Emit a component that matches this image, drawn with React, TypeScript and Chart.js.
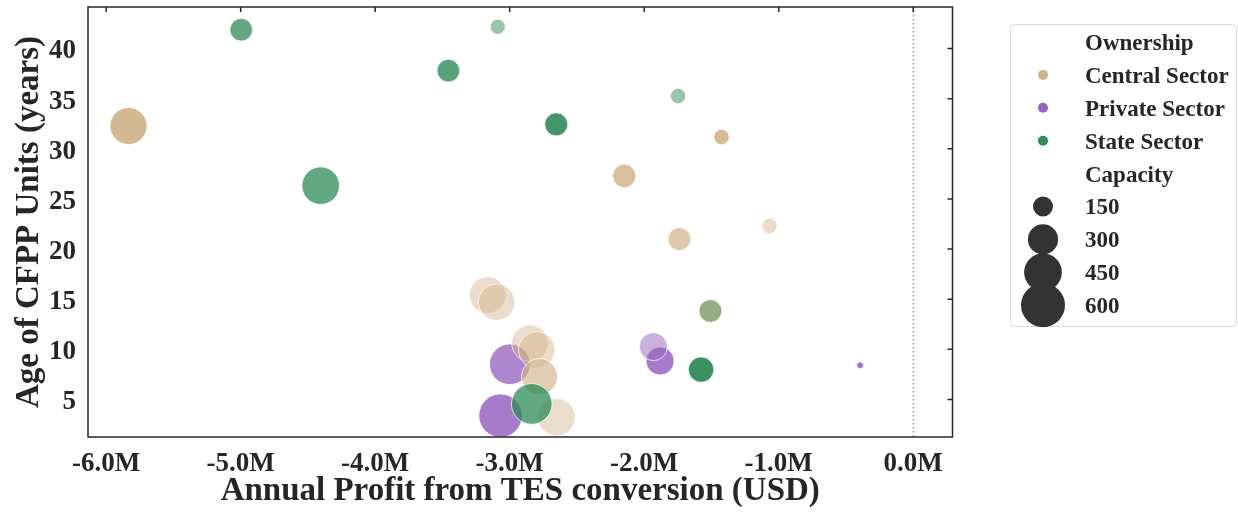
import React, { useEffect, useRef } from "react";
import { Chart, registerables } from "chart.js";

Chart.register(...registerables);

// Annual profit from TES conversion, in million USD (drawn in this order)
const profitM = [
  -1.882, -1.932, -0.395, -2.999, -3.068,
  -5.834, -2.148, -1.425, -1.738, -1.069, -1.508, -3.164, -3.097, -2.849, -2.799, -2.778, -2.652,
  -4.996, -3.089, -3.456, -4.405, -2.654, -1.748, -1.508, -1.577, -2.836,
];
// Age of each coal-fired unit, in years
const ageYears = [
  8.84, 10.27, 8.41, 8.51, 3.39,
  32.27, 27.29, 31.18, 21.0, 22.3, 13.83, 15.42, 14.7, 10.61, 9.94, 7.28, 3.23,
  41.87, 42.17, 37.79, 26.32, 32.44, 35.26, 13.83, 7.98, 4.56,
];
// Unit capacity, MW
const capacityMW = [
  263, 263, 46, 516, 585,
  434, 193, 102, 188, 102, 188, 425, 425, 422, 422, 413, 443,
  183, 99, 183, 447, 188, 102, 188, 222, 516,
];
const ownership = [
  "Private Sector", "Private Sector", "Private Sector", "Private Sector", "Private Sector",
  "Central Sector", "Central Sector", "Central Sector", "Central Sector", "Central Sector", "Central Sector",
  "Central Sector", "Central Sector", "Central Sector", "Central Sector", "Central Sector", "Central Sector",
  "State Sector", "State Sector", "State Sector", "State Sector", "State Sector", "State Sector",
  "State Sector", "State Sector", "State Sector",
];
// Marker opacity per unit
const opacity = [
  0.85, 0.5, 0.9, 0.78, 0.85,
  0.95, 0.85, 0.9, 0.7, 0.45, 0.8, 0.45, 0.45, 0.45, 0.45, 0.65, 0.45,
  0.75, 0.5, 0.8, 0.75, 0.9, 0.5, 0.4, 0.95, 0.75,
];

const ownershipNames = ["Central Sector", "Private Sector", "State Sector"];
const ownershipRGB: Record<string, number[]> = {
  "Central Sector": [210, 180, 140],
  "Private Sector": [150, 100, 192],
  "State Sector": [46, 139, 87],
};
const xTickValues = [-6, -5, -4, -3, -2, -1, 0];
const yTickValues = [5, 10, 15, 20, 25, 30, 35, 40];
const capacityLegend = [150, 300, 450, 600];

const FONT = "'Liberation Serif', 'Times New Roman', serif";
const INK = "#262626";

// marker area grows linearly with capacity
const radiusFor = (cap: number) => Math.sqrt(Math.max(0.853 * cap - 28, 4));

const rgba = (rgb: number[], a: number) => `rgba(${rgb[0]},${rgb[1]},${rgb[2]},${a})`;

const decorPlugin = {
  id: "decor",
  beforeDatasetsDraw(chart: any) {
    const { ctx, chartArea, scales } = chart;
    const x0 = Math.round(scales.x.getPixelForValue(0)) + 0.5;
    ctx.save();
    ctx.strokeStyle = "#9a9a9a";
    ctx.lineWidth = 1.6;
    ctx.setLineDash([1.6, 2.4]);
    ctx.beginPath();
    ctx.moveTo(x0, chartArea.top);
    ctx.lineTo(x0, chartArea.bottom);
    ctx.stroke();
    ctx.restore();
  },
  afterDraw(chart: any) {
    const { ctx, chartArea, scales } = chart;
    const { left, right, top, bottom } = chartArea;
    ctx.save();
    // frame
    ctx.strokeStyle = INK;
    ctx.lineWidth = 1.5;
    ctx.strokeRect(left, top, right - left, bottom - top);
    // inward ticks on top and right
    ctx.beginPath();
    for (const v of xTickValues) {
      const px = scales.x.getPixelForValue(v);
      ctx.moveTo(px, top);
      ctx.lineTo(px, top + 5);
    }
    for (const v of yTickValues) {
      const py = scales.y.getPixelForValue(v);
      ctx.moveTo(right, py);
      ctx.lineTo(right - 5, py);
    }
    ctx.stroke();

    // axis titles
    ctx.fillStyle = INK;
    ctx.font = `bold 33px ${FONT}`;
    ctx.textAlign = "center";
    ctx.textBaseline = "middle";
    ctx.fillText("Annual Profit from TES conversion (USD)", (left + right) / 2, 491);
    ctx.save();
    ctx.translate(29, (top + bottom) / 2);
    ctx.rotate(-Math.PI / 2);
    ctx.fillText("Age of CFPP Units (years)", 0, 0);
    ctx.restore();

    // legend
    const bx = 1010.5, by = 24.5, bw = 226, bh = 302;
    ctx.strokeStyle = "#d6d6d6";
    ctx.lineWidth = 1;
    ctx.beginPath();
    ctx.roundRect(bx, by, bw, bh, 4);
    ctx.fillStyle = "rgba(255,255,255,0.8)";
    ctx.fill();
    ctx.stroke();

    const textX = 1085;
    const markX = 1043;
    const rowY = (i: number) => 42 + i * 32.9;
    const textY = (i: number) => rowY(i) + 2;
    ctx.font = `bold 23px ${FONT}`;
    ctx.textAlign = "left";
    ctx.fillStyle = INK;
    ctx.fillText("Ownership", textX, textY(0));
    ownershipNames.forEach((name, i) => {
      ctx.fillStyle = rgba(ownershipRGB[name], 1);
      ctx.beginPath();
      ctx.arc(markX, rowY(i + 1), 5, 0, Math.PI * 2);
      ctx.fill();
      ctx.fillStyle = INK;
      ctx.fillText(name, textX, textY(i + 1));
    });
    ctx.fillText("Capacity", textX, textY(4));
    capacityLegend.forEach((cap, i) => {
      ctx.fillStyle = "#333333";
      ctx.beginPath();
      ctx.arc(markX, rowY(i + 5), radiusFor(cap), 0, Math.PI * 2);
      ctx.fill();
      ctx.fillStyle = INK;
      ctx.fillText(String(cap), textX, textY(i + 5));
    });
    ctx.restore();
  },
};

export default function App() {
  const canvasRef = useRef<HTMLCanvasElement | null>(null);

  useEffect(() => {
    const canvas = canvasRef.current;
    if (!canvas) return;
    const points = profitM.map((x, i) => ({ x, y: ageYears[i], r: radiusFor(capacityMW[i]) }));
    const colors = ownership.map((o, i) => rgba(ownershipRGB[o], opacity[i]));

    const chart = new Chart(canvas, {
      type: "bubble",
      data: {
        datasets: [
          {
            data: points,
            backgroundColor: colors,
            borderColor: "rgba(255,255,255,0.9)",
            borderWidth: 0.8,
            hoverBorderWidth: 0.8,
            clip: false,
          },
        ],
      },
      options: {
        responsive: false,
        animation: false,
        devicePixelRatio: 1,
        layout: { autoPadding: false, padding: { top: 7, right: 285.5, left: 0, bottom: 0 } },
        plugins: { legend: { display: false }, tooltip: { enabled: false } },
        scales: {
          x: {
            type: "linear",
            min: -6.135,
            max: 0.292,
            grid: { display: false, drawTicks: false },
            border: { display: false },
            afterFit: (s: any) => {
              s.height = 75;
              s.paddingLeft = 0;
              s.paddingRight = 0;
            },
            afterBuildTicks: (s: any) => {
              s.ticks = xTickValues.map((v) => ({ value: v }));
            },
            ticks: {
              padding: 11,
              color: INK,
              font: { family: FONT, size: 27, weight: "bold" },
              maxRotation: 0,
              autoSkip: false,
              callback: (v: any) => `${Number(v).toFixed(1)}M`,
            },
          },
          y: {
            type: "linear",
            min: 1.26,
            max: 44.14,
            grid: { display: false, drawTicks: false },
            border: { display: false },
            afterFit: (s: any) => {
              s.width = 88;
              s.paddingTop = 0;
              s.paddingBottom = 0;
            },
            afterBuildTicks: (s: any) => {
              s.ticks = yTickValues.map((v) => ({ value: v }));
            },
            ticks: {
              padding: 12,
              labelOffset: 3,
              color: INK,
              font: { family: FONT, size: 27, weight: "bold" },
              autoSkip: false,
            },
          },
        },
      },
      plugins: [decorPlugin],
    });
    return () => chart.destroy();
  }, []);

  return (
    <div style={{ position: "fixed", left: 0, top: 0, width: 1238, height: 512, background: "#fff" }}>
      <canvas ref={canvasRef} width={1238} height={512} />
    </div>
  );
}
